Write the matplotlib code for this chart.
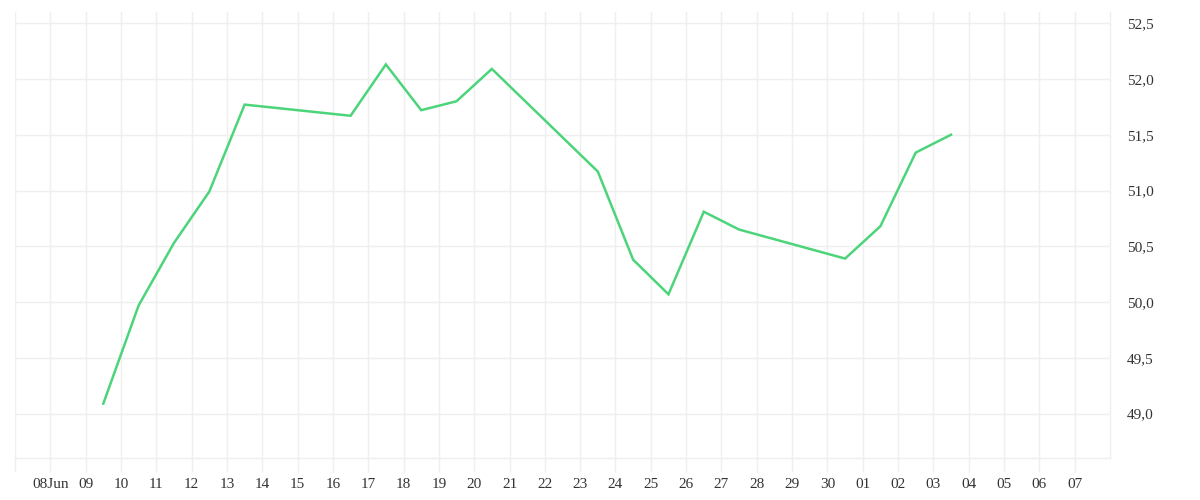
import datetime as dt
import matplotlib
matplotlib.use('Agg')
import matplotlib.pyplot as plt
from matplotlib.ticker import FuncFormatter

# readings at noon of each day
DATES = ['2024-06-09', '2024-06-10', '2024-06-11', '2024-06-12', '2024-06-13',
         '2024-06-16', '2024-06-17', '2024-06-18', '2024-06-19', '2024-06-20',
         '2024-06-23', '2024-06-24', '2024-06-25', '2024-06-26', '2024-06-27',
         '2024-06-30', '2024-07-01', '2024-07-02', '2024-07-03']
VALUES = [49.09, 49.97, 50.53, 50.99, 51.77,
          51.67, 52.13, 51.72, 51.80, 52.09,
          51.17, 50.38, 50.07, 50.81, 50.65,
          50.39, 50.68, 51.34, 51.50]

TICK_DATES = ['2024-06-07'] + [f'2024-06-{d:02d}' for d in range(8, 31)] + [f'2024-07-{d:02d}' for d in range(1, 8)]
TICK_LABELS = [''] + ['08Jun'] + [f'{d:02d}' for d in range(9, 31)] + [f'{d:02d}' for d in range(1, 8)]
Y_TICKS = [49.0, 49.5, 50.0, 50.5, 51.0, 51.5, 52.0, 52.5]

LINE_COLOR = '#4cd47a'
GRID_COLOR = '#efefef'
TEXT_COLOR = '#333333'


def main() -> None:
    plt.rcParams['font.family'] = ['Liberation Serif', 'DejaVu Serif']

    fig = plt.figure(figsize=(12, 5), dpi=100)
    ax = fig.add_axes([0.0125, 0.0834, 0.9125, 0.8926])

    x = [dt.datetime.fromisoformat(d) + dt.timedelta(hours=12) for d in DATES]
    ax.plot(x, VALUES, color=LINE_COLOR, linewidth=1.8, solid_joinstyle='miter')

    ax.set_xlim(dt.datetime(2024, 6, 7), dt.datetime(2024, 7, 8))
    ax.set_ylim(48.6, 52.6)

    ticks = [dt.datetime.fromisoformat(d) for d in TICK_DATES]
    ax.set_xticks(ticks)
    ax.set_xticklabels(TICK_LABELS)
    ax.set_yticks(Y_TICKS)
    ax.yaxis.set_major_formatter(FuncFormatter(lambda v, p: f'{v:.1f}'.replace('.', ',')))

    ax.yaxis.tick_right()
    ax.tick_params(axis='x', length=10, color=GRID_COLOR, width=1, pad=4,
                   labelsize=11, labelcolor=TEXT_COLOR)
    ax.tick_params(axis='y', length=0, pad=12, labelsize=11, labelcolor=TEXT_COLOR)

    ax.grid(True, color=GRID_COLOR, linewidth=1)
    ax.set_axisbelow(True)

    for side in ['top', 'left']:
        ax.spines[side].set_visible(False)
    for side in ['bottom', 'right']:
        ax.spines[side].set_color(GRID_COLOR)
        ax.spines[side].set_linewidth(1)

    fig.savefig('out.png', dpi=100, facecolor='white')
    plt.close(fig)


if __name__ == '__main__':
    main()
